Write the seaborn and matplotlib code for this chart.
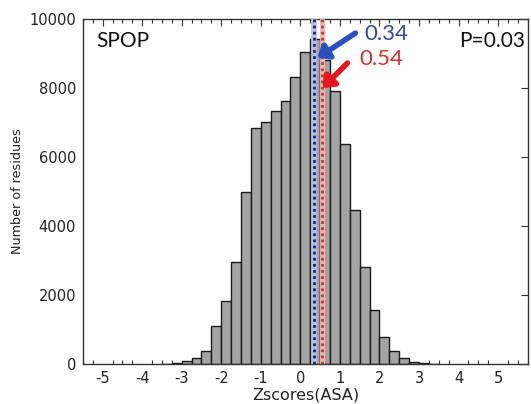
import numpy as np
import pandas as pd
import matplotlib
matplotlib.use("Agg")
import matplotlib.pyplot as plt
import seaborn as sns
from matplotlib.ticker import MultipleLocator

# ---- data ----
bin_edges = [-3.5, -3.25, -3.0, -2.75, -2.5, -2.25, -2.0, -1.75, -1.5, -1.25,
             -1.0, -0.75, -0.5, -0.25, 0.0, 0.25, 0.5, 0.75, 1.0, 1.25,
             1.5, 1.75, 2.0, 2.25, 2.5, 2.75, 3.0, 3.25, 3.5]
counts = [8, 22, 78, 183, 370, 1110, 1835, 2965, 4990, 6830,
          7000, 7340, 7630, 8330, 9030, 9420, 8810, 7910, 6380, 4460,
          2820, 1565, 774, 386, 165, 67, 30, 10]
protein = "SPOP"
pvalue_label = "P=0.03"
mean_blue = 0.34
mean_red = 0.54
xticks = [-5, -4, -3, -2, -1, 0, 1, 2, 3, 4, 5]
yticks = [0, 2000, 4000, 6000, 8000, 10000]

centers = [(a + b) / 2 for a, b in zip(bin_edges[:-1], bin_edges[1:])]
df = pd.DataFrame({"z": centers, "n": counts})

sns.set_style("white")
plt.rcParams["font.family"] = ["DejaVu Sans"]

fig = plt.figure(figsize=(5.31, 4.04), dpi=100)
ax = fig.add_axes([0.156, 0.099, 0.838, 0.854])

sns.histplot(data=df, x="z", weights="n", bins=bin_edges, ax=ax,
             color="#a4a4a4", edgecolor="#1a1a1a", linewidth=1.0, alpha=1.0)

# mean lines
ax.axvline(mean_blue, color="#b8c0e0", lw=4, zorder=3)
ax.axvline(mean_blue, color="#1a1a9a", lw=2, ls=(0, (1, 1.2)), zorder=4)
ax.axvline(mean_red, color="#f0b8b0", lw=3.5, zorder=3)
ax.axvline(mean_red, color="#d03030", lw=2, ls=(0, (1, 1.2)), zorder=4)

ax.set_xlim(-5.5, 5.75)
ax.set_ylim(0, 10000)
ax.set_xticks(xticks)
ax.set_xticklabels([str(t) for t in xticks])
ax.set_yticks(yticks)
ax.xaxis.set_minor_locator(MultipleLocator(0.25))

ax.tick_params(axis="both", which="major", direction="in", top=True, right=True,
               length=5, width=0.8, labelsize=10.5, colors="#333333",
               labelcolor="#222222", pad=5)
ax.tick_params(axis="x", which="minor", direction="in", top=True, bottom=True,
               length=3, width=0.8, colors="#333333")
for s in ax.spines.values():
    s.set_color("#333333")
    s.set_linewidth(1.0)

ax.set_xlabel("Zscores(ASA)", fontsize=11.5, color="#222222", labelpad=1)
ax.set_ylabel("Number of residues", fontsize=9.2, color="#222222", labelpad=4)

# annotations
ax.text(-5.16, 9360, protein, fontsize=15, family=["Lato", "DejaVu Sans"],
        ha="left", va="center", color="#111111")
ax.text(5.67, 9360, pvalue_label, fontsize=15, family=["Lato", "DejaVu Sans"],
        ha="right", va="center", color="#111111")
ax.text(1.62, 9565, f"{mean_blue:.2f}", fontsize=16, family=["Lato", "DejaVu Sans"],
        ha="left", va="center", color="#34489a")
ax.text(1.49, 8840, f"{mean_red:.2f}", fontsize=16, family=["Lato", "DejaVu Sans"],
        ha="left", va="center", color="#d8302a")

ax.annotate("", xy=(0.43, 8870), xytext=(1.39, 9590),
            arrowprops=dict(arrowstyle="-|>,head_length=0.6,head_width=0.5",
                            color="#2a4fc0", lw=4, shrinkA=0, shrinkB=0),
            zorder=6)
ax.annotate("", xy=(0.56, 8000), xytext=(1.19, 8725),
            arrowprops=dict(arrowstyle="-|>,head_length=0.6,head_width=0.5",
                            color="#e8141c", lw=4, shrinkA=0, shrinkB=0),
            zorder=6)

fig.savefig("out.png", dpi=100)
